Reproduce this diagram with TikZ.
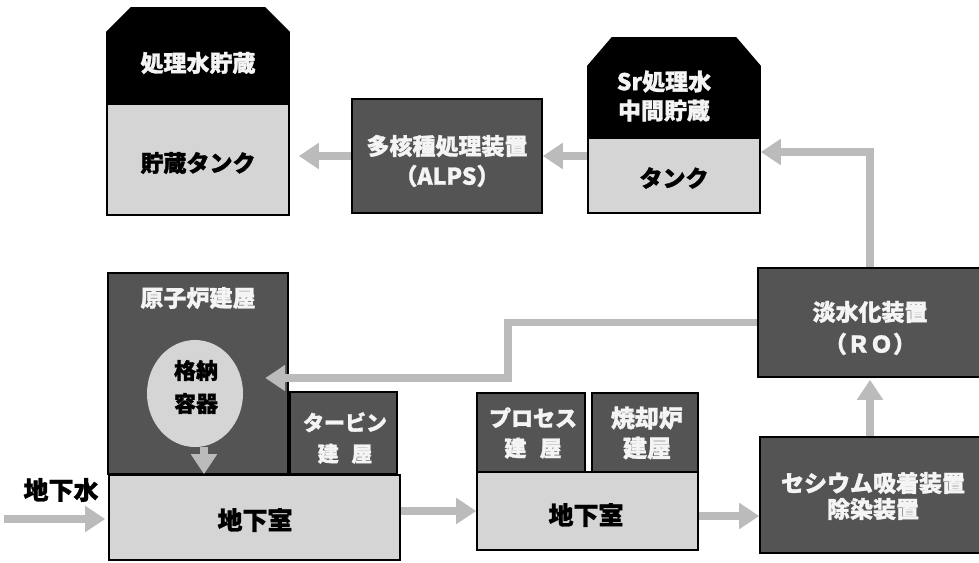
\documentclass[tikz,border=0pt]{standalone}
\usepackage{fontspec}
\setmainfont{Noto Sans CJK JP}[BoldFeatures={FakeBold=1.3}]
\usetikzlibrary{arrows.meta,shapes.geometric}
\definecolor{darkc}{HTML}{545454}
\definecolor{lightc}{HTML}{D5D5D5}
\definecolor{flowc}{HTML}{BBBBBB}
\definecolor{txtw}{HTML}{F4F4F4}
\begin{document}
\begin{tikzpicture}[x=1pt,y=-1pt,
  jpfont/.style={font=\bfseries\fontsize{23}{30}\selectfont},
  darkbox/.style={draw=black, line width=1.6pt, fill=darkc, text=txtw, jpfont, align=center, inner sep=0pt},
  lightbox/.style={draw=black, line width=1.6pt, fill=lightc, text=black, jpfont, align=center, inner sep=0pt},
  label/.style={jpfont, align=center, inner sep=0pt},
  bigfont/.style={font=\bfseries\fontsize{25}{30}\selectfont},
  flowarrow/.style={draw=flowc, line width=7.5pt, -{Triangle[width=25pt,length=20pt]}},
]
\useasboundingbox (0,0) rectangle (979,562);

% ---------- storage tank (top left)
\draw[line width=1.6pt, fill=black] (107,104) -- (107,32) -- (131,8) -- (265,8) -- (289,32) -- (289,104) -- cycle;
\node[lightbox, minimum width=182pt, minimum height=111pt] (tank1) at (198,159.5) {};
\node[label, text=txtw] (tank1title) at (198,63) {処理水貯蔵};
\node[label, text=black] (tank1text) at (198,163) {貯蔵タンク};

% ---------- ALPS
\node[darkbox, minimum width=190pt, minimum height=114pt] (alps) at (447,156) {};
\node[label, text=txtw] (alpstext) at (447,161) {多核種処理装置\\（ALPS）};

% ---------- Sr tank
\draw[line width=1.6pt, fill=black] (588,138) -- (588,66) -- (612,38) -- (736,38) -- (760,66) -- (760,138) -- cycle;
\node[lightbox, minimum width=172pt, minimum height=75pt] (srtank) at (674,175.5) {};
\node[label, text=txtw, font=\bfseries\fontsize{23}{29}\selectfont] (srtitle) at (664,96) {Sr処理水\\中間貯蔵};
\node[label, text=black] (srtext) at (674,178) {タンク};

% ---------- RO
\node[darkbox, minimum width=224pt, minimum height=109pt] (ro) at (870,322.5) {};
\node[label, text=txtw, font=\bfseries\fontsize{23}{32}\selectfont] (rotext) at (870,328) {淡水化装置\\（ＲＯ）};

% ---------- Cesium
\node[darkbox, minimum width=222pt, minimum height=116pt] (ces) at (871,495) {};
\node[label, text=txtw, font=\bfseries\fontsize{23}{26}\selectfont] (cestext) at (873,496) {セシウム吸着装置\\除染装置};

% ---------- Reactor building
\node[darkbox, minimum width=180pt, minimum height=201pt] (reactor) at (198,373.5) {};
\node[label, text=txtw] (reactortitle) at (198,298) {原子炉建屋};
\node[ellipse, fill=lightc, minimum width=96pt, minimum height=107pt, inner sep=0pt] (cont) at (195,393.5) {};
\node[label, text=black, font=\bfseries\fontsize{22}{33}\selectfont] (conttext) at (196,387) {格納\\容器};

% ---------- Turbine building
\node[darkbox, minimum width=107pt, minimum height=82pt] (turbine) at (343.5,433) {};
\node[label, text=txtw, font=\bfseries\fontsize{21}{31}\selectfont] (turbinetext) at (345,438) {タービン\\建\hspace{0.6em}屋};

% ---------- Basement 1
\node[lightbox, minimum width=291pt, minimum height=85pt] (base1) at (254.5,517.5) {};
\node[label, bigfont, text=black] (base1text) at (255,520) {地下室};

% ---------- Process / Incinerator / Basement 2
\node[darkbox, minimum width=108pt, minimum height=79pt] (proc) at (531,432.5) {};
\node[label, text=txtw, font=\bfseries\fontsize{22}{30}\selectfont] (proctext) at (533,433) {プロセス\\建\hspace{0.6em}屋};
\node[darkbox, minimum width=106pt, minimum height=79pt] (incin) at (645,432.5) {};
\node[label, text=txtw, font=\bfseries\fontsize{24}{30}\selectfont] (incintext) at (647,433) {焼却炉\\建屋};
\node[lightbox, minimum width=221pt, minimum height=78pt] (base2) at (587.5,511) {};
\node[label, bigfont, text=black] (base2text) at (586,515) {地下室};

% ---------- groundwater
\node[label, bigfont, text=black] (gw) at (61,490) {地下水};
\coordinate (gwstart) at (4,519);
\coordinate (bend) at (508,378);

% ---------- flows
\draw[flowarrow] (alps.east -| srtank.west) -- (alps.east);
\draw[flowarrow, shorten >=9pt] (alps.west) -- (alps.west -| tank1.east);
\draw[flowarrow] (ro.north) |- ([yshift=23.5pt]srtank.east);
\draw[flowarrow, shorten >=2pt] (ces.north -| ro.south) -- (ro.south);
\draw[flowarrow, shorten >=22pt] (ro.west) -| (bend) -- (bend -| cont.east);
\draw[flowarrow] ([xshift=9pt]cont.south) -- ([xshift=9pt]cont.south |- base1.north);
\draw[flowarrow, shorten >=3pt] (gwstart) -- (gwstart -| base1.west);
\draw[flowarrow] (base2.west -| base1.east) -- (base2.west);
\draw[flowarrow] ([yshift=-5pt]base2.east) -- ([yshift=-5pt]base2.east -| ces.west);
\end{tikzpicture}
\end{document}
